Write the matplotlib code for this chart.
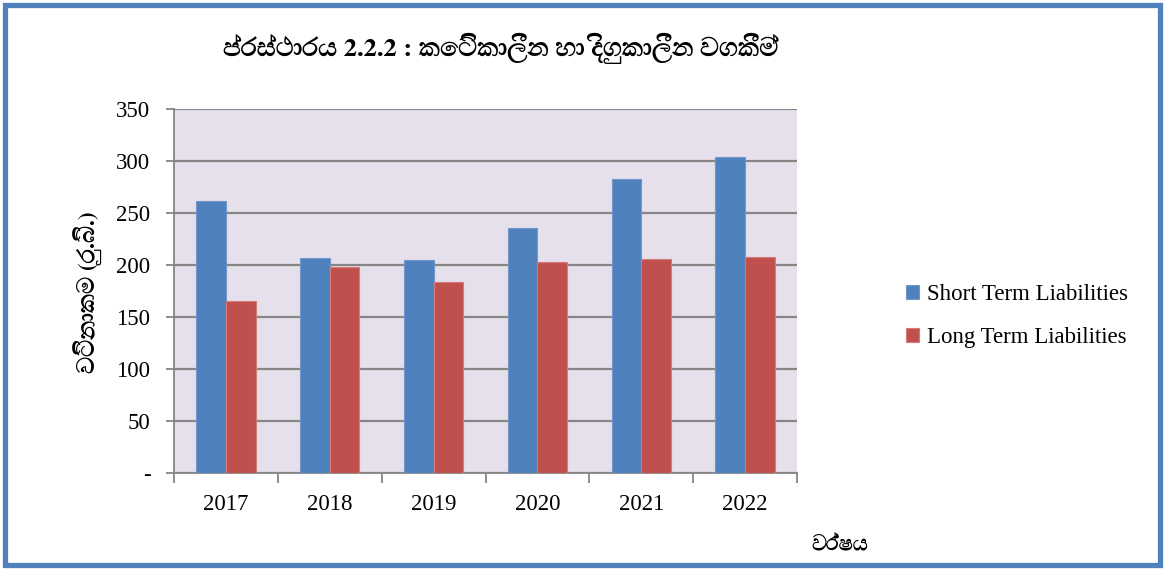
import matplotlib
matplotlib.use("Agg")
import matplotlib.pyplot as plt
from matplotlib import font_manager
from matplotlib.patches import Rectangle
import numpy as np

for path in ["/usr/share/fonts/truetype/freefont/FreeSerif.ttf",
             "/usr/share/fonts/truetype/freefont/FreeSerifBold.ttf"]:
    try:
        font_manager.fontManager.addfont(path)
    except Exception:
        pass

years = ["2017", "2018", "2019", "2020", "2021", "2022"]
short_term = [261.7, 207.1, 205.2, 235.8, 282.4, 304.1]
long_term = [165.2, 197.8, 183.4, 202.9, 206.1, 207.4]
y_ticks = [0, 50, 100, 150, 200, 250, 300, 350]
y_tick_labels = ["-", "50", "100", "150", "200", "250", "300", "350"]

title = "ප්රස්ථාරය 2.2.2 : කෙටිකාලීන හා දිගුකාලීන වගකීම්"
ylabel = "වටිනාකම (රු.බි.)"
xlabel = "වර්ෂය"

serif = ["Liberation Serif", "DejaVu Serif"]
sinhala = ["FreeSerif", "Liberation Serif", "DejaVu Sans"]

fig = plt.figure(figsize=(11.64, 5.69), dpi=100)
ax = fig.add_axes([174 / 1164, 1 - 473 / 569, 623 / 1164, 364 / 569])
ax.set_facecolor("#E6E0EC")

x = np.arange(len(years))
w = 1 / 3.5  # excel gap width 150%
ax.bar(x - w / 2, short_term, w, color="#4F81BD", edgecolor="#6F97CC", linewidth=0.8,
       label="Short Term Liabilities", zorder=3)
ax.bar(x + w / 2, long_term, w, color="#C0504D", edgecolor="#D47A77", linewidth=0.8,
       label="Long Term Liabilities", zorder=3)

ax.set_xlim(-0.5, len(years) - 0.5)
ax.set_ylim(0, 350)
ax.set_yticks(y_ticks)
ax.set_yticklabels(y_tick_labels, fontfamily=serif, fontsize=16.5)
ax.yaxis.grid(True, color="#868686", linewidth=1.6, zorder=1)
ax.set_axisbelow(True)

ax.set_xticks(x)
ax.set_xticklabels(years, fontfamily=serif, fontsize=16.5)
ax.tick_params(axis="x", length=0, pad=15)
ax.set_xticks(np.arange(len(years) + 1) - 0.5, minor=True)
ax.tick_params(axis="x", which="minor", length=7, width=1.3, color="#868686")
ax.tick_params(axis="y", length=6, width=1.3, color="#868686", pad=11)

for s in ["top", "right"]:
    ax.spines[s].set_visible(False)
for s in ["left", "bottom"]:
    ax.spines[s].set_color("#868686")
    ax.spines[s].set_linewidth(1.3)

fig.text(501 / 1164, 1 - 48 / 569, title, ha="center", va="center", fontsize=19,
         fontweight="bold", family=sinhala)
fig.text(88 / 1164, 1 - 292 / 569, ylabel, ha="center", va="center", rotation=90,
         fontsize=17, fontweight="bold", family=sinhala)
fig.text(840 / 1164, 1 - 545 / 569, xlabel, ha="center", va="center", fontsize=15,
         fontweight="bold", family=sinhala)

fig.legend(loc="center left", bbox_to_anchor=(885 / 1164, 1 - 316 / 569),
           frameon=False, prop={"family": serif, "size": 16.5},
           handlelength=0.6, handleheight=0.6, handletextpad=0.35, labelspacing=0.95)

# outer chart frame
fig.patches.append(Rectangle((4.5 / 1164, 4.5 / 569), 1 - 9 / 1164, 1 - 9 / 569,
                             transform=fig.transFigure, fill=False,
                             edgecolor="#4F81BD", linewidth=3.8))

fig.savefig("out.png", dpi=100)
